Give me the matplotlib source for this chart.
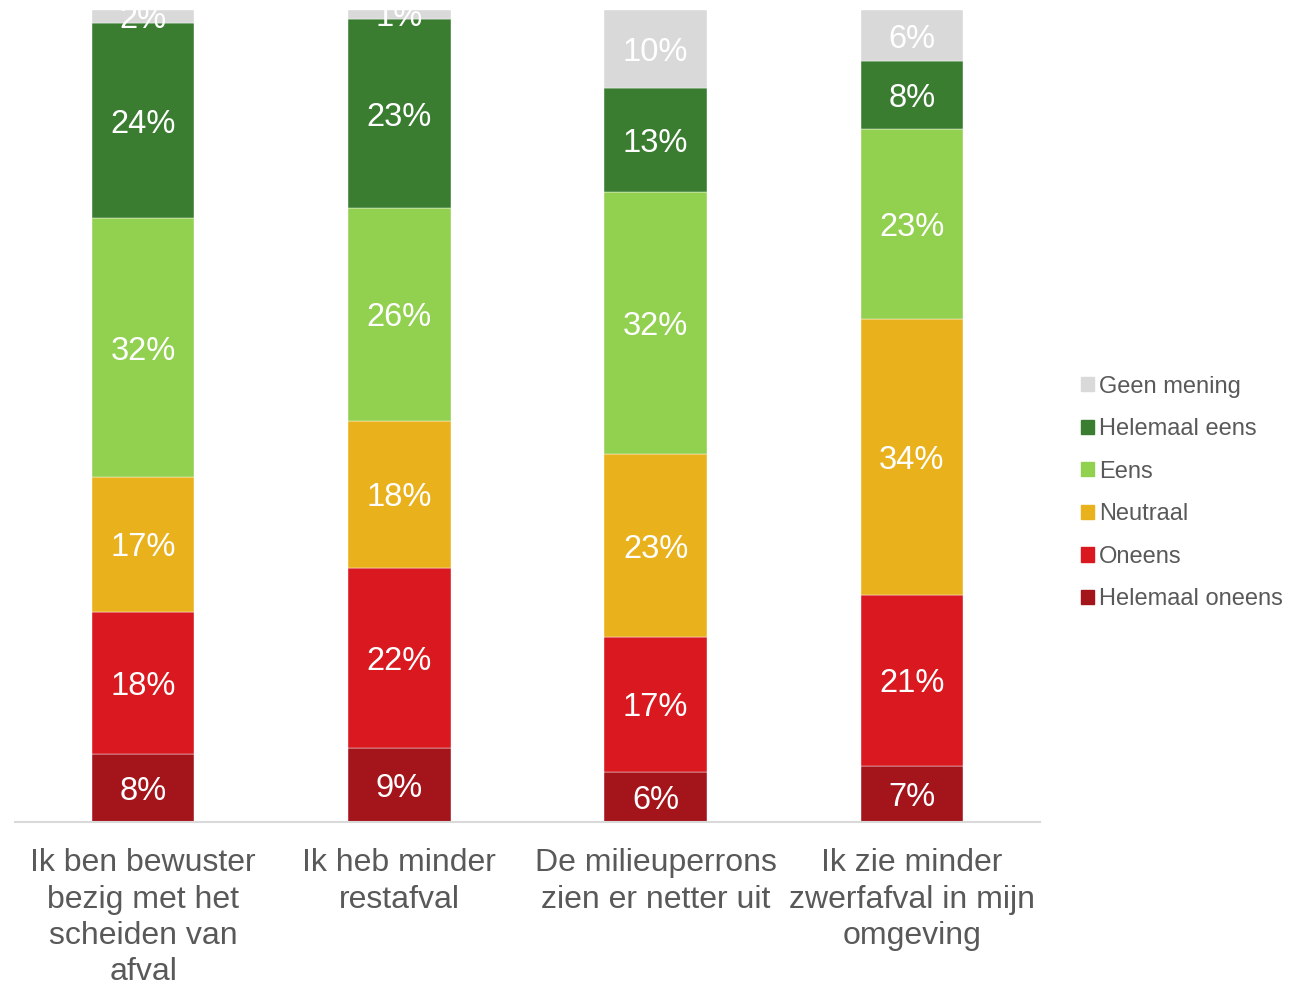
import numpy as np
import matplotlib.pyplot as plt
from matplotlib.patches import Patch

plt.rcParams['font.family'] = ['Liberation Sans', 'DejaVu Sans']

# categorieën en aandelen (in %, per balk van onder naar boven)
categories = ['Ik ben bewuster\nbezig met het\nscheiden van\nafval',
              'Ik heb minder\nrestafval',
              'De milieuperrons\nzien er netter uit',
              'Ik zie minder\nzwerfafval in mijn\nomgeving']
series = ['Helemaal oneens', 'Oneens', 'Neutraal', 'Eens', 'Helemaal eens', 'Geen mening']
helemaal_oneens = [8.4, 9.1, 6.2, 6.9]
oneens = [17.6, 22.2, 16.6, 21.1]
neutraal = [16.6, 18.1, 22.6, 34.0]
eens = [32.0, 26.2, 32.3, 23.4]
helemaal_eens = [24.1, 23.3, 12.9, 8.4]
geen_mening = [1.6, 1.1, 9.6, 6.3]

colors = ['#A3141B', '#D9181F', '#E9B11B', '#92D050', '#3A7D31', '#D9D9D9']

data = np.array([helemaal_oneens, oneens, neutraal, eens, helemaal_eens, geen_mening])
shares = data / data.sum(axis=0)

fig = plt.figure(figsize=(13.09, 9.84), dpi=100)
ax = fig.add_axes([15 / 1309, 1 - 822 / 984, 1025 / 1309, 812 / 984])

x = np.arange(len(categories))
bottom = np.zeros(len(categories))
for i, name in enumerate(series):
    ax.bar(x, shares[i], width=0.4, bottom=bottom, color=colors[i],
           edgecolor='white', linewidth=0.3, label=name)
    for j in range(len(categories)):
        ax.text(x[j], bottom[j] + shares[i][j] / 2, f'{data[i][j]:.0f}%',
                ha='center', va='center_baseline', color='white', fontsize=23.5)
    bottom += shares[i]

ax.set_xlim(-0.5, len(categories) - 0.5)
ax.set_ylim(0, 1)
ax.set_yticks([])
ax.set_xticks(x)
ax.set_xticklabels(categories, fontsize=23, color='#595959', linespacing=1.27)
ax.tick_params(axis='x', length=0, pad=19)
for s in ['top', 'left', 'right']:
    ax.spines[s].set_visible(False)
ax.spines['bottom'].set_color('#D9D9D9')
ax.spines['bottom'].set_linewidth(1.5)

handles = [Patch(color=colors[i], label=series[i]) for i in range(len(series) - 1, -1, -1)]
fig.legend(handles=handles, loc='center left', bbox_to_anchor=(1060 / 1309, 1 - 493 / 984),
           frameon=False, fontsize=17, labelcolor='#595959', handlelength=0.55,
           handleheight=0.55, handletextpad=0.2, labelspacing=0.87)

fig.savefig('out.png', dpi=100)
